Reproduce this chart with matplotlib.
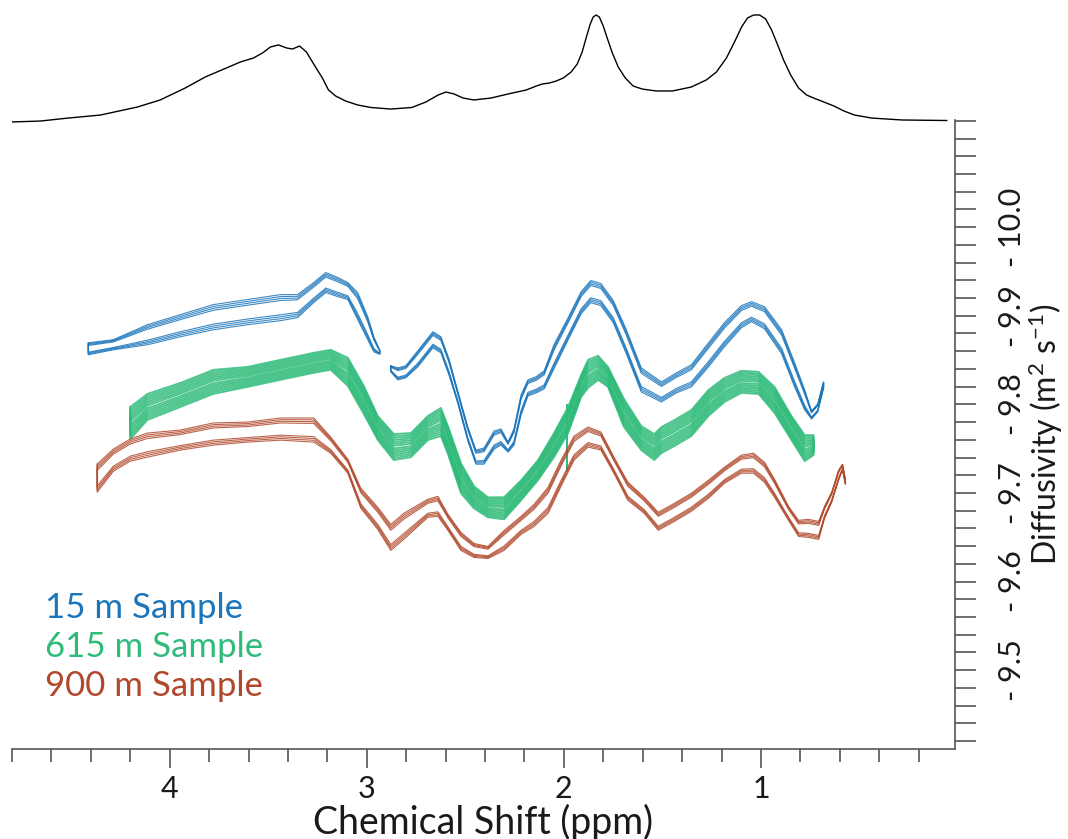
"""DOSY map of three core samples with the 1H spectrum on top."""
import numpy as np
import matplotlib
matplotlib.use("Agg")
import matplotlib.pyplot as plt
from matplotlib.ticker import MultipleLocator

FONT = ["Lato", "DejaVu Sans"]
plt.rcParams["font.family"] = FONT
plt.rcParams["mathtext.fontset"] = "custom"
plt.rcParams["mathtext.rm"] = "Lato"
plt.rcParams["mathtext.default"] = "rm"

BLUE, GREEN, BROWN = "#1a75bb", "#2fbb79", "#b1482b"
AXIS_GREY = "#555555"
TEXT = "#1a1a1a"

# 1D proton spectrum (ppm, relative intensity)
SPEC_PPM = [4.810, 4.657, 4.515, 4.352, 4.164, 4.048, 3.921, 3.819, 3.712, 3.641,
            3.575, 3.529, 3.489, 3.448, 3.407, 3.377, 3.341, 3.306, 3.260, 3.225,
            3.194, 3.158, 3.107, 3.046, 2.980, 2.878, 2.771, 2.700, 2.638, 2.598,
            2.557, 2.511, 2.456, 2.370, 2.283, 2.191, 2.140, 2.110, 2.074, 2.039,
            2.003, 1.963, 1.932, 1.907, 1.887, 1.866, 1.851, 1.836, 1.820, 1.800,
            1.780, 1.754, 1.724, 1.688, 1.648, 1.602, 1.531, 1.449, 1.353, 1.277,
            1.226, 1.175, 1.134, 1.098, 1.068, 1.037, 1.007, 0.976, 0.946, 0.915,
            0.885, 0.849, 0.809, 0.768, 0.732, 0.681, 0.630, 0.579, 0.525, 0.438,
            0.285, 0.057]
SPEC_INT = [0.000, 0.009, 0.037, 0.065, 0.140, 0.206, 0.318, 0.421, 0.505, 0.561,
            0.598, 0.645, 0.701, 0.720, 0.692, 0.682, 0.710, 0.654, 0.514, 0.411,
            0.299, 0.243, 0.196, 0.159, 0.136, 0.121, 0.136, 0.187, 0.252, 0.280,
            0.262, 0.224, 0.206, 0.224, 0.262, 0.299, 0.336, 0.355, 0.364, 0.383,
            0.411, 0.467, 0.542, 0.654, 0.785, 0.916, 0.981, 1.000, 0.981, 0.897,
            0.785, 0.645, 0.514, 0.411, 0.336, 0.308, 0.290, 0.290, 0.327, 0.393,
            0.467, 0.598, 0.748, 0.888, 0.972, 1.000, 1.000, 0.963, 0.860, 0.720,
            0.579, 0.439, 0.318, 0.252, 0.224, 0.187, 0.150, 0.103, 0.065, 0.037,
            0.019, 0.014]

# 15 m sample: two separate ridges (ppm, log D centre, half width of the band)
S15A_PPM = [4.413, 4.286, 4.113, 3.946, 3.778, 3.605, 3.437, 3.351, 3.269, 3.208,
            3.147, 3.096, 3.046, 2.995, 2.964, 2.934]
S15A_LOGD = [-9.8627, -9.8673, -9.8786, -9.8888, -9.8984, -9.9041, -9.9092, -9.9109,
             -9.9262, -9.9375, -9.9324, -9.9279, -9.9109, -9.8859, -9.8678, -9.8588]
S15A_HW = [0.0068, 0.0057, 0.0113, 0.0125, 0.0142, 0.0142, 0.0147, 0.0130, 0.0113,
           0.0113, 0.0108, 0.0096, 0.0153, 0.0130, 0.0085, 0.0023]

S15B_PPM = [2.878, 2.842, 2.802, 2.741, 2.664, 2.624, 2.583, 2.537, 2.487, 2.446,
            2.405, 2.354, 2.319, 2.283, 2.253, 2.217, 2.182, 2.141, 2.100, 2.050,
            1.978, 1.912, 1.863, 1.812, 1.749, 1.683, 1.607, 1.505, 1.429, 1.353,
            1.266, 1.185, 1.099, 1.048, 0.982, 0.895, 0.829, 0.778, 0.743, 0.712,
            0.682]
S15B_LOGD = [-9.8401, -9.8344, -9.8367, -9.8514, -9.8729, -9.8673, -9.8424, -9.8072,
             -9.7665, -9.7404, -9.7416, -9.7597, -9.7631, -9.7518, -9.7631, -9.7993,
             -9.8186, -9.8220, -9.8276, -9.8537, -9.8854, -9.9148, -9.9273, -9.9239,
             -9.9046, -9.8707, -9.8276, -9.8140, -9.8242, -9.8322, -9.8559, -9.8786,
             -9.8990, -9.9046, -9.8978, -9.8707, -9.8333, -9.8050, -9.7880, -9.7959,
             -9.8220]
S15B_HW = [0.0034, 0.0068, 0.0068, 0.0091, 0.0091, 0.0091, 0.0091, 0.0068, 0.0079,
           0.0079, 0.0091, 0.0102, 0.0091, 0.0057, 0.0091, 0.0113, 0.0091, 0.0091,
           0.0102, 0.0136, 0.0125, 0.0125, 0.0125, 0.0125, 0.0125, 0.0136, 0.0136,
           0.0113, 0.0113, 0.0125, 0.0136, 0.0136, 0.0125, 0.0113, 0.0125, 0.0136,
           0.0136, 0.0113, 0.0045, 0.0045, 0.0034]

# 615 m sample
S615_PPM = [4.200, 4.113, 3.946, 3.778, 3.605, 3.437, 3.269, 3.183, 3.096, 3.015,
            2.944, 2.863, 2.776, 2.690, 2.624, 2.588, 2.522, 2.456, 2.385, 2.303,
            2.217, 2.131, 2.050, 1.978, 1.912, 1.877, 1.826, 1.776, 1.695, 1.607,
            1.541, 1.505, 1.439, 1.353, 1.266, 1.185, 1.099, 1.012, 0.931, 0.845,
            0.778, 0.733]
S615_LOGD = [-9.7789, -9.7971, -9.8106, -9.8254, -9.8310, -9.8390, -9.8469, -9.8503,
             -9.8367, -9.8050, -9.7733, -9.7518, -9.7540, -9.7733, -9.7801, -9.7597,
             -9.7166, -9.6951, -9.6838, -9.6827, -9.7030, -9.7257, -9.7540, -9.7823,
             -9.8208, -9.8344, -9.8412, -9.8310, -9.7903, -9.7619, -9.7518, -9.7597,
             -9.7676, -9.7789, -9.8016, -9.8163, -9.8254, -9.8242, -9.8050, -9.7733,
             -9.7506, -9.7540]
S615_HW = [0.0181, 0.0147, 0.0136, 0.0136, 0.0113, 0.0113, 0.0113, 0.0113, 0.0159,
           0.0159, 0.0136, 0.0147, 0.0136, 0.0136, 0.0159, 0.0159, 0.0170, 0.0125,
           0.0113, 0.0125, 0.0113, 0.0113, 0.0136, 0.0147, 0.0125, 0.0159, 0.0136,
           0.0113, 0.0159, 0.0136, 0.0147, 0.0147, 0.0147, 0.0147, 0.0147, 0.0136,
           0.0125, 0.0125, 0.0147, 0.0136, 0.0147, 0.0113]
S615_SPIKE_PPM = [1.983, 1.983]
S615_SPIKE_LOGD = [-9.7993, -9.7257]

# 900 m sample
S900_PPM = [4.368, 4.286, 4.200, 4.113, 3.946, 3.778, 3.605, 3.437, 3.269, 3.183,
            3.096, 3.030, 2.944, 2.878, 2.812, 2.690, 2.639, 2.588, 2.522, 2.456,
            2.385, 2.303, 2.217, 2.151, 2.080, 2.014, 1.948, 1.877, 1.812, 1.746,
            1.675, 1.592, 1.521, 1.439, 1.353, 1.266, 1.185, 1.099, 1.038, 0.982,
            0.931, 0.860, 0.809, 0.758, 0.707, 0.677, 0.641, 0.606, 0.586, 0.571]
S900_LOGD = [-9.7166, -9.7370, -9.7484, -9.7540, -9.7597, -9.7665, -9.7687, -9.7721,
             -9.7710, -9.7540, -9.7302, -9.6940, -9.6713, -9.6498, -9.6623, -9.6827,
             -9.6849, -9.6668, -9.6453, -9.6351, -9.6328, -9.6464, -9.6634, -9.6747,
             -9.6917, -9.7223, -9.7506, -9.7631, -9.7586, -9.7314, -9.7019, -9.6861,
             -9.6680, -9.6781, -9.6895, -9.7042, -9.7200, -9.7325, -9.7336, -9.7234,
             -9.7053, -9.6770, -9.6600, -9.6600, -9.6577, -9.6781, -9.6951, -9.7200,
             -9.7291, -9.7121]
S900_HW = [0.0159, 0.0125, 0.0125, 0.0136, 0.0113, 0.0125, 0.0113, 0.0125, 0.0136,
           0.0091, 0.0079, 0.0113, 0.0125, 0.0147, 0.0147, 0.0102, 0.0113, 0.0091,
           0.0102, 0.0079, 0.0068, 0.0113, 0.0102, 0.0125, 0.0147, 0.0147, 0.0136,
           0.0113, 0.0102, 0.0091, 0.0102, 0.0091, 0.0102, 0.0102, 0.0102, 0.0102,
           0.0091, 0.0102, 0.0113, 0.0113, 0.0102, 0.0079, 0.0091, 0.0102, 0.0102,
           0.0068, 0.0057, 0.0057, 0.0034, 0.0023]

# contour levels as fractions of the band half width
LEVELS_SPLIT = [1.0, 0.85, 0.7, 0.55]
LEVELS_DENSE = [1.0, 0.85, 0.7, 0.55, 0.4, 0.25, 0.1]

YTICKS = [-9.5, -9.6, -9.7, -9.8, -9.9, -10.0]
YTICK_LABELS = ["- 9.5", "- 9.6", "- 9.7", "- 9.8", "- 9.9", "- 10.0"]
LEGEND = [("15 m Sample", BLUE), ("615 m Sample", GREEN), ("900 m Sample", BROWN)]


def band(ax, ppm, logd, hw, levels, color, lw):
    """Nested closed loops around a ridge, like contour levels of a DOSY peak."""
    ppm, logd, hw = map(np.asarray, (ppm, logd, hw))
    for f in levels:
        xs = np.concatenate([ppm, ppm[::-1], ppm[:1]])
        ys = np.concatenate([logd - f * hw, (logd + f * hw)[::-1], logd[:1] - f * hw[:1]])
        ax.plot(xs, ys, color=color, lw=lw, alpha=0.85, solid_joinstyle="round")


fig = plt.figure(figsize=(10.68, 8.39), dpi=100)
ax = fig.add_axes([0.01124, 0.1073, 0.883, 0.7497])
top = fig.add_axes([0.01124, 0.851, 0.883, 0.149], sharex=ax)

# top spectrum
top.plot(SPEC_PPM, SPEC_INT, color="black", lw=1.0)
top.set_ylim(-0.028, 1.14)
top.axis("off")

band(ax, S15A_PPM, S15A_LOGD, S15A_HW, LEVELS_SPLIT, BLUE, 0.8)
band(ax, S15B_PPM, S15B_LOGD, S15B_HW, LEVELS_SPLIT, BLUE, 0.8)
band(ax, S615_PPM, S615_LOGD, S615_HW, LEVELS_DENSE, GREEN, 1.3)
ax.plot(S615_SPIKE_PPM, S615_SPIKE_LOGD, color=GREEN, lw=1.4)
band(ax, S900_PPM, S900_LOGD, S900_HW, LEVELS_SPLIT, BROWN, 0.8)

ax.set_xlim(4.80, 0.015)
ax.set_ylim(-9.411, -10.121)

for side in ("top", "left"):
    ax.spines[side].set_visible(False)
for side in ("bottom", "right"):
    ax.spines[side].set_color(AXIS_GREY)
    ax.spines[side].set_linewidth(1.2)

ax.xaxis.set_minor_locator(MultipleLocator(0.2))
ax.set_xticks([4, 3, 2, 1])
ax.set_xticklabels(["4", "3", "2", "1"])
ax.tick_params(axis="x", which="major", length=14, width=1.2, color=AXIS_GREY,
               labelsize=22, pad=5, labelcolor=TEXT)
ax.tick_params(axis="x", which="minor", length=9, width=1.2, color=AXIS_GREY)
ax.set_xlabel("Chemical Shift (ppm)", fontsize=27, color=TEXT, labelpad=0)

ax.yaxis.tick_right()
ax.yaxis.set_label_position("right")
ax.set_yticks(YTICKS)
ax.set_yticklabels(YTICK_LABELS, rotation=90, va="center", ha="left")
ax.yaxis.set_minor_locator(MultipleLocator(0.02))
ax.tick_params(axis="y", which="both", length=15, width=1.2, color=AXIS_GREY,
               labelsize=22, pad=16, labelcolor=TEXT)
ax.set_ylabel(r"Diffusivity (m$^{2}$ s$^{-1}$)", fontsize=23, color=TEXT,
              rotation=90, labelpad=0)

for i, (txt, col) in enumerate(LEGEND):
    fig.text(45 / 1068, 1 - (618 + 39 * i) / 839, txt, color=col, fontsize=25,
             va="baseline", ha="left")

fig.savefig("out.png", dpi=100)
